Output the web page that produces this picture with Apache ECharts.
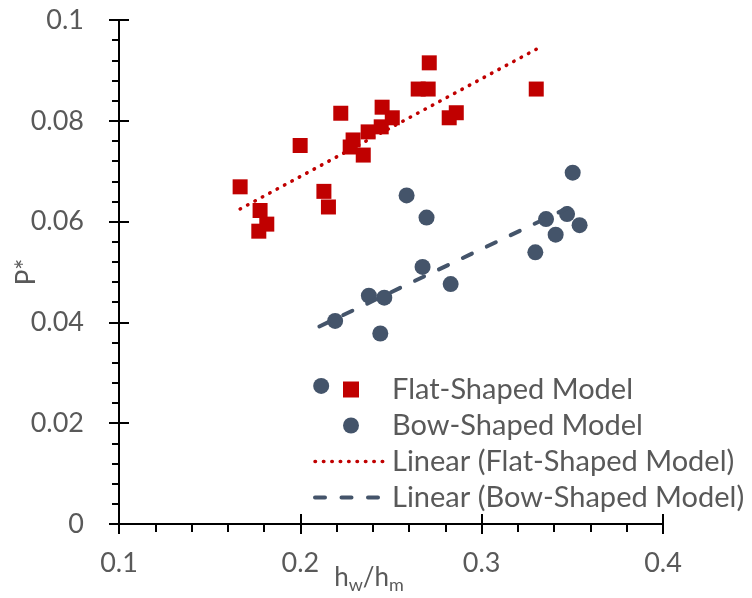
<!DOCTYPE html>
<html><head><meta charset="utf-8">
<script src="https://cdn.jsdelivr.net/npm/echarts@6/dist/echarts.min.js"></script>
<style>html,body{margin:0;padding:0;background:#fff}#c{width:752px;height:598px}</style>
</head><body><div id="c"></div>
<script>
// Flat-shaped model (red squares)
const flatX = [0.1668,0.1778,0.1815,0.1771,0.1999,0.2130,0.2155,0.2223,0.2291,0.2275,0.2347,0.2374,0.2446,0.2451,0.2507,0.2711,0.2650,0.2705,0.2860,0.2821,0.3301];
const flatY = [0.0669,0.0622,0.0595,0.0581,0.0751,0.0660,0.0629,0.0815,0.0762,0.0748,0.0732,0.0778,0.0788,0.0827,0.0806,0.0915,0.0863,0.0863,0.0816,0.0806,0.0863];
// Bow-shaped model (blue circles)
const bowX = [0.2586,0.2696,0.2674,0.2829,0.2378,0.2463,0.2192,0.2441,0.3296,0.3355,0.3408,0.3471,0.3540,0.3502,0.2115];
const bowY = [0.0652,0.0608,0.0510,0.0476,0.0453,0.0449,0.0403,0.0378,0.0539,0.0605,0.0574,0.0615,0.0593,0.0697,0.0274];
// Linear trendlines (end points)
const flatTrendX = [0.1668,0.3301];
const flatTrendY = [0.0625,0.0942];
const bowTrendX = [0.2105,0.3544];
const bowTrendY = [0.0392,0.0639];
const seriesNames = ['Flat-Shaped Model','Bow-Shaped Model','Linear (Flat-Shaped Model)','Linear (Bow-Shaped Model)'];

const zip = (a,b) => a.map((v,i)=>[v,b[i]]);
const FONT = 'Lato';
const GREY = '#595959';
const RED = '#C00000';
const BLUE = '#44546A';
const fmt = v => String(+v.toFixed(3));
const dotStyle = {color:RED, width:3.5, type:[0.5,7.9], cap:'round'};
const dashStyle = {color:BLUE, width:4, type:[10,16.5], cap:'round'};

const chart = echarts.init(document.getElementById('c'), null, {renderer:'canvas'});
const baseAxis = {
  axisLine:{show:true, lineStyle:{color:'#000', width:2}},
  splitLine:{show:false}
};
chart.setOption({
  animation:false,
  textStyle:{fontFamily:FONT},
  grid:{left:119, right:89, top:20, bottom:74, containLabel:false, outerBoundsMode:'none'},
  xAxis:[
    Object.assign({}, baseAxis, {
      type:'value', min:0.1, max:0.4, interval:0.1, position:'bottom',
      axisTick:{show:true, inside:false, length:10, lineStyle:{color:'#000', width:2}},
      minorTick:{show:true, splitNumber:5, length:8, lineStyle:{color:'#000', width:2}},
      minorSplitLine:{show:false},
      axisLabel:{formatter:fmt, color:GREY, fontSize:27, fontFamily:FONT, margin:26},
      name:'{a|h}{s|w}{a|/h}{s|m}', nameLocation:'middle', nameGap:37, nameMoveOverlap:false,
      nameTextStyle:{padding:[0,44,0,0], rich:{
        a:{fontSize:26, color:GREY, fontFamily:FONT},
        s:{fontSize:18, color:GREY, fontFamily:FONT, padding:[15,0,0,0]}
      }}
    }),
    Object.assign({}, baseAxis, {
      type:'value', min:0.1, max:0.4, interval:0.1, position:'bottom',
      axisLine:{show:false},
      axisTick:{show:true, inside:true, length:10, lineStyle:{color:'#000', width:2}},
      axisLabel:{show:false}
    })
  ],
  yAxis:[
    Object.assign({}, baseAxis, {
      type:'value', min:0, max:0.1, interval:0.02, position:'left',
      axisTick:{show:true, inside:false, length:10, lineStyle:{color:'#000', width:2}},
      minorTick:{show:true, splitNumber:5, length:7, lineStyle:{color:'#000', width:2}},
      minorSplitLine:{show:false},
      axisLabel:{formatter:fmt, color:GREY, fontSize:27, fontFamily:FONT, margin:35},
      name:'P*', nameLocation:'middle', nameGap:79, nameRotate:90, nameMoveOverlap:false,
      nameTextStyle:{color:GREY, fontSize:26, fontFamily:FONT}
    }),
    Object.assign({}, baseAxis, {
      type:'value', min:0, max:0.1, interval:0.02, position:'left',
      axisLine:{show:false},
      axisTick:{show:true, inside:true, length:10, lineStyle:{color:'#000', width:2}},
      axisLabel:{show:false}
    })
  ],
  legend:{
    orient:'vertical', left:313, top:375, padding:0, itemWidth:72, itemHeight:16, itemGap:7,
    symbolKeepAspect:true,
    data:[
      {name:seriesNames[0], icon:'path://M0,0L10,0L10,10L0,10Z'},
      {name:seriesNames[1], icon:'circle'},
      {name:seriesNames[2], itemStyle:{opacity:0}, lineStyle:dotStyle},
      {name:seriesNames[3], itemStyle:{opacity:0}, lineStyle:dashStyle}
    ],
    textStyle:{color:GREY, fontSize:29, fontFamily:FONT},
    backgroundColor:'rgba(0,0,0,0)'
  },
  series:[
    {name:seriesNames[0], type:'scatter', symbol:'rect', symbolSize:15,
     itemStyle:{color:RED, opacity:1}, data:zip(flatX,flatY)},
    {name:seriesNames[1], type:'scatter', symbol:'circle', symbolSize:16,
     itemStyle:{color:BLUE, opacity:1}, data:zip(bowX,bowY)},
    {name:seriesNames[2], type:'line', symbol:'none', showSymbol:false,
     lineStyle:dotStyle, itemStyle:{color:RED}, data:zip(flatTrendX,flatTrendY)},
    {name:seriesNames[3], type:'line', symbol:'none', showSymbol:false,
     lineStyle:dashStyle, itemStyle:{color:BLUE}, data:zip(bowTrendX,bowTrendY)}
  ]
});
</script></body></html>
